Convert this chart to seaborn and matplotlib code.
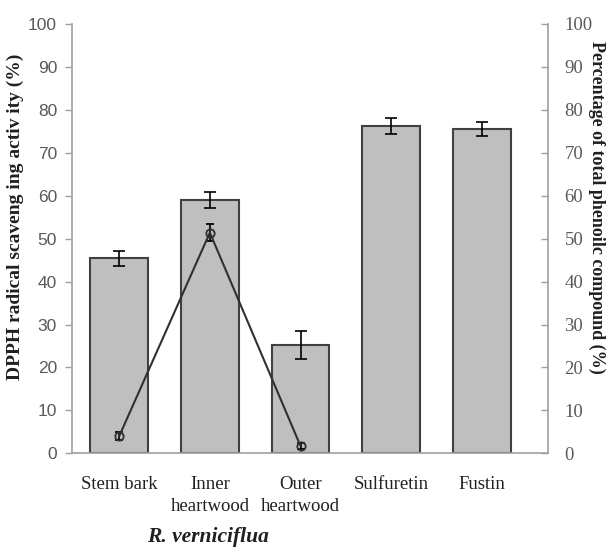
import matplotlib
matplotlib.use("Agg")
import matplotlib.pyplot as plt
import seaborn as sns
import numpy as np
import pandas as pd

categories = ["Stem bark", "Inner\nheartwood", "Outer\nheartwood", "Sulfuretin", "Fustin"]
dpph = [45.4, 59.0, 25.2, 76.3, 75.6]
dpph_err = [1.7, 1.8, 3.3, 1.9, 1.6]
phenolic_cats = ["Stem bark", "Inner\nheartwood", "Outer\nheartwood"]
phenolic = [4.0, 51.4, 1.7]
phenolic_err = [0.9, 2.0, 0.7]
yticks = list(range(0, 101, 10))

sns.set_style("white")
plt.rcParams['font.family'] = ['Liberation Serif', 'DejaVu Serif']

fig = plt.figure(figsize=(6.08, 5.49), dpi=100)
ax = fig.add_axes([0.119, 0.1743, 0.782, 0.782])

df = pd.DataFrame({"cat": categories, "val": dpph})
sns.barplot(data=df, x="cat", y="val", ax=ax, color="#BFBFBF", edgecolor="#404040",
            linewidth=1.5, width=0.634, saturation=1)
xpos = np.arange(len(categories))
ax.errorbar(xpos, dpph, yerr=dpph_err, fmt="none", ecolor="black", capsize=4,
            elinewidth=1.2, capthick=1.2, zorder=5)
ax.set_xlim(-0.517, 4.728)
ax.set_ylim(0, 100)
ax.set_yticks(yticks)
ax.set_yticklabels([str(t) for t in yticks], fontfamily="Liberation Sans", fontsize=12.5, color="#595959")
ax.tick_params(axis="y", direction="out", length=5, width=1, color="#A0A0A0", pad=6, left=True)
ax.tick_params(axis="x", length=0, pad=16, labelsize=13.5, labelcolor="#202020")
for lbl in ax.get_xticklabels():
    lbl.set_linespacing(1.4)
    lbl.set_va("top")
ax.set_xlabel("")
ax.set_ylabel("")
for s in ["top", "right"]:
    ax.spines[s].set_visible(False)
for s in ["left", "bottom"]:
    ax.spines[s].set_color("#A0A0A0")
    ax.spines[s].set_linewidth(1.2)

ax2 = ax.twinx()
ax2.errorbar(xpos[:len(phenolic)], phenolic, yerr=phenolic_err, fmt="-o", color="#303030",
             mfc="none", mec="#303030", ms=6, mew=1.3, lw=1.5, ecolor="black",
             capsize=3, elinewidth=1.2, capthick=1.2, zorder=6)
ax2.set_ylim(0, 100)
ax2.set_yticks(yticks)
ax2.set_yticklabels([str(t) for t in yticks], fontsize=13.5, color="#595959")
ax2.tick_params(axis="y", direction="in", length=5, width=1, color="#A0A0A0", pad=12, right=True)
ax2.set_ylabel("")
for s in ["top", "left", "bottom"]:
    ax2.spines[s].set_visible(False)
ax2.spines["right"].set_color("#A0A0A0")
ax2.spines["right"].set_linewidth(1.2)

fig.text(15 / 608, 1 - 217 / 549, "DPPH radical scaveng ing activ ity (%)", fontsize=14,
         fontweight="bold", rotation=90, ha="center", va="center", color="#202020")
fig.text(597 / 608, 1 - 207 / 549, "Percentage of total phenoilc compound (%)", fontsize=13,
         fontweight="bold", rotation=270, ha="center", va="center", color="#202020")

fig.text(208 / 608, 1 - 537 / 549, "R. verniciflua", fontsize=15.5, fontweight="bold", fontstyle="italic",
         ha="center", va="center", color="#202020")

fig.savefig("out.png", dpi=100)
